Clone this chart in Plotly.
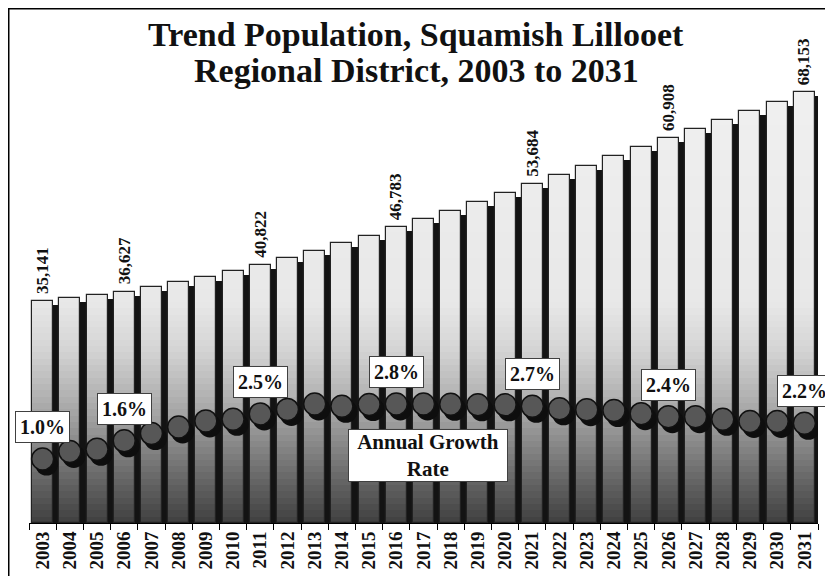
import numpy as np
import plotly.graph_objects as go

# ---------------- data ----------------
YEARS = ["2003", "2004", "2005", "2006", "2007", "2008", "2009", "2010", "2011", "2012",
         "2013", "2014", "2015", "2016", "2017", "2018", "2019", "2020", "2021", "2022",
         "2023", "2024", "2025", "2026", "2027", "2028", "2029", "2030", "2031"]

POPULATION = [35141, 35580, 36050, 36627, 37300, 38070, 38930, 39830, 40822, 41900,
              43080, 44260, 45500, 46783, 48100, 49450, 50830, 52250, 53684, 55110,
              56560, 58030, 59480, 60908, 62370, 63810, 65240, 66700, 68153]

GROWTH_PCT = [1.00, 1.25, 1.32, 1.60, 1.84, 2.06, 2.26, 2.31, 2.49, 2.64,
              2.82, 2.74, 2.80, 2.82, 2.82, 2.81, 2.79, 2.79, 2.74, 2.66,
              2.63, 2.60, 2.50, 2.40, 2.40, 2.31, 2.24, 2.24, 2.18]

LABEL_YEARS = ["2003", "2006", "2011", "2016", "2021", "2026", "2031"]

TITLE_LINES = ["Trend Population, Squamish Lillooet", "Regional District, 2003 to 2031"]
SERIES_LABEL = "Annual Growth<br>Rate"

# ---------------- layout constants ----------------
# (page has an 8px body margin, so figure coords = page coords - 8)
W, H = 833, 576
M_L, M_R, M_T, M_B = 21, 23, 74, 61
PLOT_W = W - M_L - M_R
PLOT_H = H - M_T - M_B
PLOT_BOTTOM = H - M_B
NCAT = len(YEARS)
CAT_PX = PLOT_W / NCAT

Y_MAX = 69800.0
UNITS_PER_PX = Y_MAX / PLOT_H

# growth axis: 1.0% sits 64px above baseline, 30.25 px per percentage point
G_PX_PER_PT = 30.25
G_LOW = 1.0 - 64 / G_PX_PER_PT
G_HIGH = G_LOW + PLOT_H / G_PX_PER_PT

BAR_W = 0.772
BAR_OFF = -BAR_W / 2
SHADOW_DX_PX, SHADOW_DY_PX = 6, 4
MARK_DX_PX, MARK_DY_PX = 4, 5

SERIF = "Liberation Serif, Times New Roman, serif"


def px_to_paper_x(px):
    return (px - M_L) / PLOT_W


def px_to_paper_y(py):
    return (PLOT_BOTTOM - py) / PLOT_H


pop = np.array(POPULATION, dtype=float)

fig = go.Figure()

# bar shadow
fig.add_trace(go.Bar(
    x=YEARS, y=pop - SHADOW_DY_PX * UNITS_PER_PX,
    width=BAR_W, offset=BAR_OFF + SHADOW_DX_PX / CAT_PX,
    marker=dict(color="#131313", line=dict(width=0)),
    hoverinfo="skip", showlegend=False))

# vertical grey gradient (light at top, dark at bottom)
stops_v = [0, 2000, 8860, 16770, 27370, 35000, 70000]
stops_g = [64, 74, 114, 162, 212, 232, 240]
step = 1000
levels = np.arange(step, 70000 + step, step)[::-1]
for lv in levels:
    g = int(round(np.interp(lv - step / 2, stops_v, stops_g)))
    fig.add_trace(go.Bar(
        x=YEARS, y=np.minimum(pop, lv),
        width=BAR_W, offset=BAR_OFF,
        marker=dict(color=f"rgb({g},{g},{g})", line=dict(width=0)),
        hoverinfo="skip", showlegend=False))

# bar outline
fig.add_trace(go.Bar(
    x=YEARS, y=pop, width=BAR_W, offset=BAR_OFF,
    marker=dict(color="rgba(0,0,0,0)", line=dict(color="#222222", width=1.2)),
    hoverinfo="skip", showlegend=False))

# growth marker shadows
fig.add_trace(go.Scatter(
    x=YEARS, y=GROWTH_PCT, xaxis="x2", yaxis="y2", mode="markers",
    marker=dict(size=23, color="#0e0e0e", line=dict(width=0)),
    hoverinfo="skip", showlegend=False))

# growth markers
fig.add_trace(go.Scatter(
    x=YEARS, y=GROWTH_PCT, xaxis="x3", yaxis="y3", mode="markers",
    marker=dict(size=22, color="#575757", line=dict(color="#111111", width=1.5)),
    hoverinfo="skip", showlegend=False))

annotations = []
for yr in LABEL_YEARS:
    i = YEARS.index(yr)
    annotations.append(dict(
        x=i, y=POPULATION[i], xref="x", yref="y", text=f"<b>{POPULATION[i]:,}</b>",
        textangle=-90, showarrow=False, xanchor="center", yanchor="bottom", yshift=5,
        font=dict(family=SERIF, size=17, color="#111111")))
    annotations.append(dict(
        x=i, y=GROWTH_PCT[i], xref="x3", yref="y3", text=f"<b>{GROWTH_PCT[i]:.1f}%</b>",
        showarrow=False, xanchor="center", yanchor="middle", yshift=32,
        bgcolor="white", bordercolor="#404040", borderwidth=1, borderpad=4,
        font=dict(family=SERIF, size=20, color="#111111")))

annotations.append(dict(
    x=px_to_paper_x(420), y=px_to_paper_y(447), xref="paper", yref="paper",
    text=f"<b>{SERIES_LABEL}</b>", showarrow=False, xanchor="center", yanchor="middle",
    width=156, height=49, bgcolor="white", bordercolor="#404040", borderwidth=1, borderpad=1,
    font=dict(family=SERIF, size=21, color="#111111")))

# title lines
for line, ymid in zip(TITLE_LINES, [26, 63]):
    annotations.append(dict(
        x=px_to_paper_x(408), y=px_to_paper_y(ymid), xref="paper", yref="paper",
        text=f"<b>{line}</b>", showarrow=False, xanchor="center", yanchor="middle",
        font=dict(family=SERIF, size=34, color="#111111")))

shapes = [dict(
    type="rect", xref="paper", yref="paper",
    x0=px_to_paper_x(0.75), x1=1.2, y0=-0.3, y1=px_to_paper_y(0.75),
    line=dict(color="black", width=1.5), fillcolor="rgba(0,0,0,0)", layer="above")]

hidden = dict(visible=False, showgrid=False, zeroline=False)

fig.update_layout(
    width=W, height=H,
    margin=dict(l=M_L, r=M_R, t=M_T, b=M_B, pad=0),
    paper_bgcolor="white", plot_bgcolor="white",
    barmode="overlay", bargap=0, showlegend=False,
    xaxis=dict(type="category", categoryorder="array", categoryarray=YEARS,
               range=[-0.5, NCAT - 0.5], tickson="boundaries", ticks="outside",
               ticklen=6, tickcolor="black", tickwidth=1, showline=True,
               linecolor="black", linewidth=1, showgrid=False, zeroline=False,
               tickangle=-90, tickfont=dict(family=SERIF, size=19, color="#111111"),
               tickprefix="<b>", ticksuffix="</b>", fixedrange=True),
    xaxis2=dict(type="category", categoryorder="array", categoryarray=YEARS,
                overlaying="x", range=[-0.5 - MARK_DX_PX / CAT_PX, NCAT - 0.5 - MARK_DX_PX / CAT_PX],
                **hidden),
    xaxis3=dict(type="category", categoryorder="array", categoryarray=YEARS,
                overlaying="x", range=[-0.5, NCAT - 0.5], **hidden),
    yaxis=dict(range=[0, Y_MAX], **hidden),
    yaxis2=dict(overlaying="y", range=[G_LOW + MARK_DY_PX / G_PX_PER_PT, G_HIGH + MARK_DY_PX / G_PX_PER_PT],
                **hidden),
    yaxis3=dict(overlaying="y", range=[G_LOW, G_HIGH], **hidden),
    annotations=annotations,
    shapes=shapes,
)

fig.write_html("out.html")
